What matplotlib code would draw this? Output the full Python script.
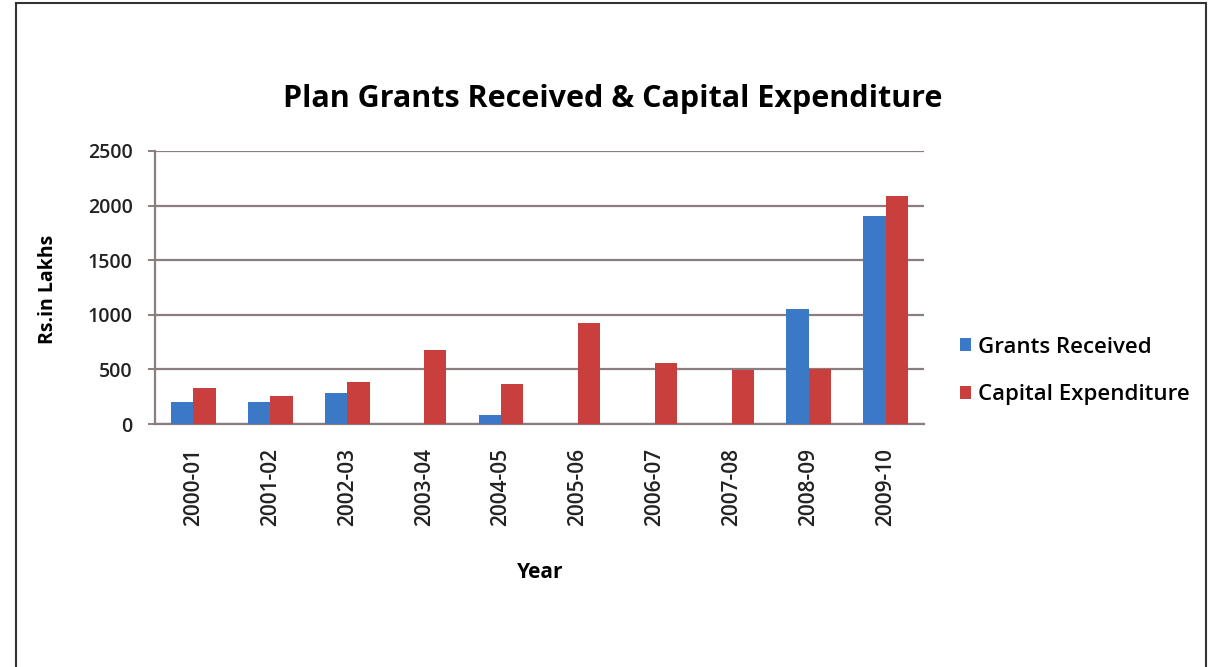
import matplotlib
matplotlib.use("Agg")
import matplotlib.pyplot as plt
import numpy as np
from matplotlib.patches import Rectangle

years = ["2000-01", "2001-02", "2002-03", "2003-04", "2004-05",
         "2005-06", "2006-07", "2007-08", "2008-09", "2009-10"]
grants = [204, 204, 281, 0, 82, 0, 0, 0, 1051, 1905]
capex = [333, 260, 382, 678, 366, 928, 562, 495, 507, 2089]
yticks = [0, 500, 1000, 1500, 2000, 2500]

plt.rcParams['font.family'] = ['Open Sans', 'DejaVu Sans']

fig = plt.figure(figsize=(12.13, 6.67), dpi=100)
W, H = 1213, 667
ax = fig.add_axes([155 / W, 1 - 424 / H, (924 - 155) / W, (424 - 151) / H])

x = np.arange(len(years))
bw = 0.29
blue = '#3b78c6'
red = '#c83f3e'
ax.bar(x - bw / 2, grants, bw, color=blue, label='Grants Received', zorder=3)
ax.bar(x + bw / 2, capex, bw, color=red, label='Capital Expenditure', zorder=3)

ax.set_xlim(-0.5, len(years) - 0.5)
ax.set_ylim(0, 2500)
ax.set_yticks(yticks)
ax.set_yticklabels([str(v) for v in yticks], fontsize=14, color='#222222',
                   fontweight='semibold')
ax.set_xticks(x)
ax.set_xticklabels(years, rotation=90, fontsize=15, color='#222222',
                   fontweight='semibold')
ax.tick_params(axis='x', length=0, pad=17)
grid_c = '#8a7d7d'
ax.tick_params(axis='y', length=5, color=grid_c, width=1.4, pad=11)
ax.grid(axis='y', color=grid_c, linewidth=1.6, zorder=0)
for s in ['top', 'right']:
    ax.spines[s].set_visible(False)
for s in ['left', 'bottom']:
    ax.spines[s].set_color(grid_c)
    ax.spines[s].set_linewidth(1.6)

fig.text(48 / W, 1 - 289 / H, 'Rs.in Lakhs', rotation=90, ha='center', va='center',
         fontsize=14, fontweight='bold')
fig.text(540 / W, 1 - 573 / H, 'Year', ha='center', va='center',
         fontsize=15, fontweight='bold')

fig.text(613 / W, 1 - 99 / H, 'Plan Grants Received & Capital Expenditure',
         ha='center', va='center', fontsize=22, fontweight='bold')

fig.legend(loc='center left', bbox_to_anchor=(960 / W, 1 - 371 / H),
           frameon=False, prop={'size': 16, 'weight': 'semibold'},
           handlelength=0.5, handleheight=0.5,
           labelspacing=1.2, handletextpad=0.3, borderaxespad=0, borderpad=0)

fig.patches.append(Rectangle((16 / W, -0.01), (1206 - 16) / W, 1 - 3 / H + 0.01,
                             transform=fig.transFigure, fill=False,
                             edgecolor='#333333', linewidth=1.5))

fig.savefig('out.png', dpi=100)
